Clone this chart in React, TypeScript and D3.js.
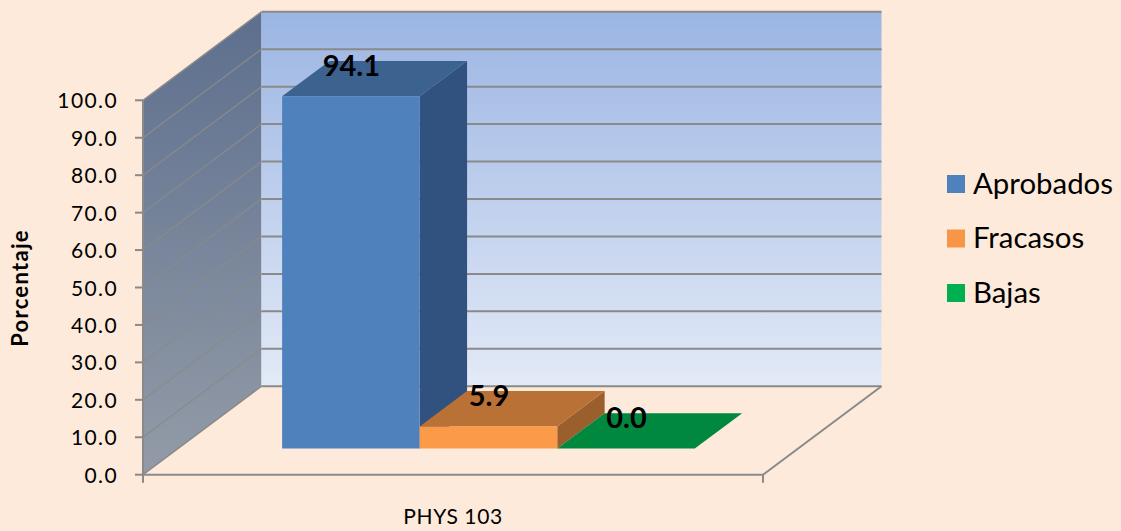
import React from "react";
import * as d3 from "d3";

const categories = ["PHYS 103"];
const seriesNames = ["Aprobados", "Fracasos", "Bajas"];
const seriesValues = [94.1, 5.9, 0.0];
const valueLabels = ["94.1", "5.9", "0.0"];
const tickValues = [0, 10, 20, 30, 40, 50, 60, 70, 80, 90, 100];
const yTitle = "Porcentaje";

const frontColors = ["#4F81BD", "#FB9A48", "#00883F"];
const topColors = ["#3C6290", "#BA7135", "#00883F"];
const sideColors = ["#31527E", "#9A5F2C", "#00883F"];
const legendColors = ["#4F81BD", "#F79646", "#00B050"];

const FONT = "Lato, 'Open Sans', sans-serif";
const GRID = "#8A8A8A";

const DX = 118.5;
const DY = -88.5;
const y = d3.scaleLinear().domain([0, 100]).range([474.7, 100.3]);
const x = d3.scaleBand<string>().domain(seriesNames).range([144, 763]).paddingInner(0).paddingOuter(0.75);
const z = d3.scaleLinear().domain([0, 1]).range([0, 1]);

const BAR_Z0 = 0.295;
const BAR_Z1 = 0.695;

function pt(px: number, v: number, depth: number): [number, number] {
  const d = z(depth);
  return [px + DX * d, y(v) + DY * d];
}
const poly = (pts: [number, number][]) => d3.line()(pts)! + "Z";

export default function App() {
  const x0 = 143;
  const x1 = 763;
  return (
    <svg width={1121} height={531} style={{ position: "fixed", left: 0, top: 0, background: "#FDEADA" }}>
      <defs>
        <linearGradient id="back" x1="0" y1="0" x2="0" y2="1">
          <stop offset="0" stopColor="#9BB5E3" />
          <stop offset="1" stopColor="#E3EAF7" />
        </linearGradient>
        <linearGradient id="side" gradientUnits="userSpaceOnUse" x1="0" y1="12" x2="0" y2="475">
          <stop offset="0" stopColor="#5D6F8E" />
          <stop offset="1" stopColor="#939BA7" />
        </linearGradient>
      </defs>

      <path d={poly([pt(x0, 0, 0), pt(x0, 100, 0), pt(x0, 100, 1), pt(x0, 0, 1)])} fill="url(#side)" />
      <path d={poly([pt(x0, 0, 1), pt(x0, 100, 1), pt(x1, 100, 1), pt(x1, 0, 1)])} fill="url(#back)" />

      {tickValues.map((t) => {
        const a = pt(x0, t, 0);
        const b = pt(x0, t, 1);
        const c = pt(x1, t, 1);
        const edge = t === 0 || t === 100;
        return (
          <g key={t}>
            <line x1={a[0]} y1={a[1]} x2={b[0]} y2={b[1]} stroke={GRID} strokeWidth={edge ? 1.5 : 1.2} />
            <line x1={b[0]} y1={b[1]} x2={c[0]} y2={c[1]} stroke={GRID} strokeWidth={2} />
            <line x1={x0 - 8} y1={a[1]} x2={x0} y2={a[1]} stroke={GRID} strokeWidth={2} />
            <text x={118} y={a[1] + 8} textAnchor="end" fontFamily={FONT} fontSize={21} letterSpacing={1.4} fill="#000">
              {t.toFixed(1)}
            </text>
          </g>
        );
      })}

      <line x1={x0} y1={y(0)} x2={x0} y2={y(100)} stroke={GRID} strokeWidth={2} />
      <line x1={x0} y1={y(0)} x2={x1} y2={y(0)} stroke={GRID} strokeWidth={2} />
      <line x1={x0} y1={y(0)} x2={x0} y2={y(0) + 8} stroke={GRID} strokeWidth={2} />
      <line x1={x1} y1={y(0)} x2={x1} y2={y(0) + 8} stroke={GRID} strokeWidth={2} />
      <line x1={x1} y1={y(0)} x2={pt(x1, 0, 1)[0]} y2={pt(x1, 0, 1)[1]} stroke={GRID} strokeWidth={2} />

      {seriesNames.map((s, i) => {
        const l = x(s)!;
        const r = l + x.bandwidth();
        const v = seriesValues[i];
        return (
          <g key={s}>
            <path d={poly([pt(r, 0, BAR_Z0), pt(r, v, BAR_Z0), pt(r, v, BAR_Z1), pt(r, 0, BAR_Z1)])} fill={sideColors[i]} />
            <path d={poly([pt(l, v, BAR_Z0), pt(r, v, BAR_Z0), pt(r, v, BAR_Z1), pt(l, v, BAR_Z1)])} fill={topColors[i]} />
            <path d={poly([pt(l, 0, BAR_Z0), pt(r, 0, BAR_Z0), pt(r, v, BAR_Z0), pt(l, v, BAR_Z0)])} fill={frontColors[i]} />
          </g>
        );
      })}

      {seriesNames.map((s, i) => {
        const l = x(s)!;
        const p = pt(l + x.bandwidth() / 2, seriesValues[i], BAR_Z0);
        return (
          <text key={s} x={p[0] + 0.5} y={p[1] - 20.5} textAnchor="middle" fontFamily={FONT} fontWeight={700} fontSize={29} fill="#000">
            {valueLabels[i]}
          </text>
        );
      })}

      <text x={453} y={524} textAnchor="middle" fontFamily={FONT} fontSize={21} letterSpacing={0.6} fill="#000">
        {categories[0]}
      </text>
      <text transform="translate(28,288) rotate(-90)" textAnchor="middle" fontFamily={FONT} fontWeight={700} fontSize={22} letterSpacing={1.3} fill="#000">
        {yTitle}
      </text>

      {seriesNames.map((s, i) => (
        <g key={s}>
          <rect x={947} y={175 + i * 54.5} width={18} height={18} fill={legendColors[i]} />
          <text x={973} y={193.5 + i * 54.5} fontFamily={FONT} fontSize={29.4} fill="#000">
            {s}
          </text>
        </g>
      ))}
    </svg>
  );
}
